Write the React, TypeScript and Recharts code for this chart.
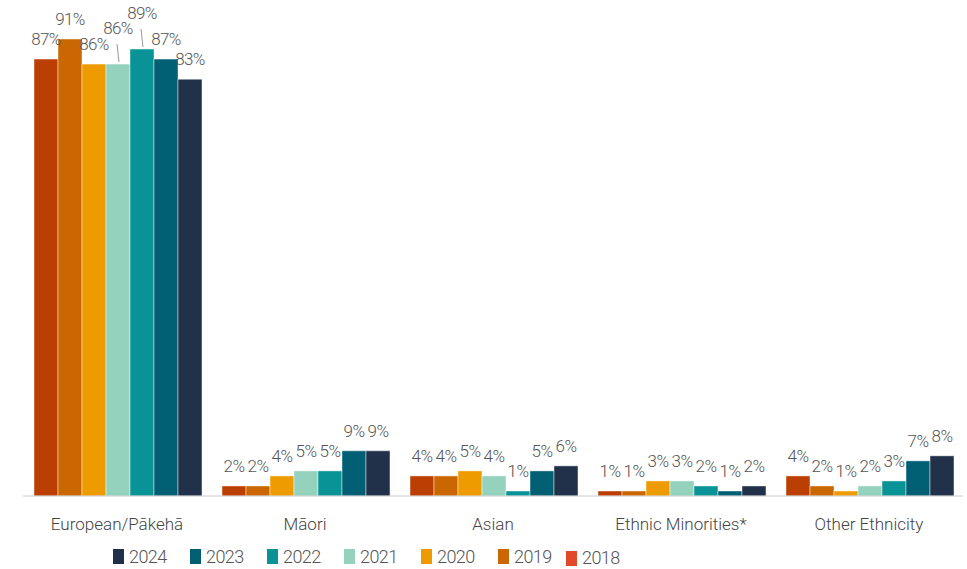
import { BarChart, Bar, XAxis, YAxis, LabelList } from "recharts";

const categories = ["European/Pākehā", "Māori", "Asian", "Ethnic Minorities*", "Other Ethnicity"];
const years = ["2018", "2019", "2020", "2021", "2022", "2023", "2024"];
const v2018 = [87, 2, 4, 1, 4];
const v2019 = [91, 2, 4, 1, 2];
const v2020 = [86, 4, 5, 3, 1];
const v2021 = [86, 5, 4, 3, 2];
const v2022 = [89, 5, 1, 2, 3];
const v2023 = [87, 9, 5, 1, 7];
const v2024 = [83, 9, 6, 2, 8];
const seriesValues = [v2018, v2019, v2020, v2021, v2022, v2023, v2024];
const colors = ["#BB3E03", "#CA6702", "#EE9B00", "#94D2BD", "#0A9396", "#005F73", "#22314A"];
const legendColors = ["#E04A28", "#CA6702", "#EE9B00", "#94D2BD", "#0A9396", "#005F73", "#1F3049"];

const data = categories.map((c, i) => {
  const row: Record<string, string | number> = { name: c };
  years.forEach((y, s) => (row[y] = seriesValues[s][i]));
  return row;
});

const FONT = "'Source Sans Pro', Roboto, sans-serif";

// labels that are lifted above their neighbours with a leader line
const LIFTED: Record<string, number[]> = { "2021": [0], "2022": [0] };

const makeLabel = (year: string) => (props: any) => {
  const { x, y, width, value, index } = props;
  const cx = x + width / 2;
  const lifted = (LIFTED[year] ?? []).includes(index);
  const base = lifted ? y - 30 : y - 14;
  return (
    <g>
      {lifted && <line x1={cx + 1} y1={y - 2} x2={cx - 1} y2={y - 20} stroke="#999" strokeWidth={1} />}
      <text
        x={cx}
        y={base}
        textAnchor="middle"
        fontSize={17}
        fontWeight={300}
        letterSpacing={-0.6}
        fill="#555"
        fontFamily={FONT}
      >
        {value}%
      </text>
    </g>
  );
};

const CategoryTick = ({ x, y, payload }: any) => (
  <text x={x} y={y + 26} textAnchor="middle" fontSize={17} fontWeight={300} fill="#444" fontFamily={FONT}>
    {payload.value}
  </text>
);

const App = () => {
  const order = [...years.keys()].reverse();
  return (
    <div style={{ position: "absolute", left: 0, top: 0, width: 967, height: 569, background: "#fff" }}>
      <BarChart
        width={967}
        height={569}
        data={data}
        margin={{ top: 39, right: 4, bottom: 0, left: 23 }}
        barCategoryGap={11}
        barGap={0}
      >
        <XAxis
          dataKey="name"
          height={73}
          axisLine={{ stroke: "#ccc" }}
          tickLine={false}
          tick={<CategoryTick />}
          interval={0}
        />
        <YAxis hide domain={[0, 91]} />
        {years.map((y, s) => (
          <Bar
            key={y}
            dataKey={y}
            fill={colors[s]}
            stroke="rgba(255,255,255,0.45)"
            strokeWidth={1}
            isAnimationActive={false}
          >
            <LabelList dataKey={y} content={makeLabel(y)} />
          </Bar>
        ))}
      </BarChart>
      <div
        style={{
          position: "absolute",
          top: 546,
          left: 113,
          display: "flex",
          fontFamily: FONT,
          fontWeight: 300,
          fontSize: 18,
          letterSpacing: -0.6,
          color: "#555",
        }}
      >
        {order.map((s, k) => (
          <div
            key={years[s]}
            style={{
              display: "flex",
              alignItems: "center",
              width: k === 5 ? 68 : 77,
              marginTop: s === 0 ? 3 : 0,
              whiteSpace: "nowrap",
            }}
          >
            <span style={{ width: 11, height: 15, background: legendColors[s], display: "inline-block", marginRight: 5 }} />
            <span style={{ lineHeight: "18px" }}>{years[s]}</span>
          </div>
        ))}
      </div>
    </div>
  );
};

export default App;
